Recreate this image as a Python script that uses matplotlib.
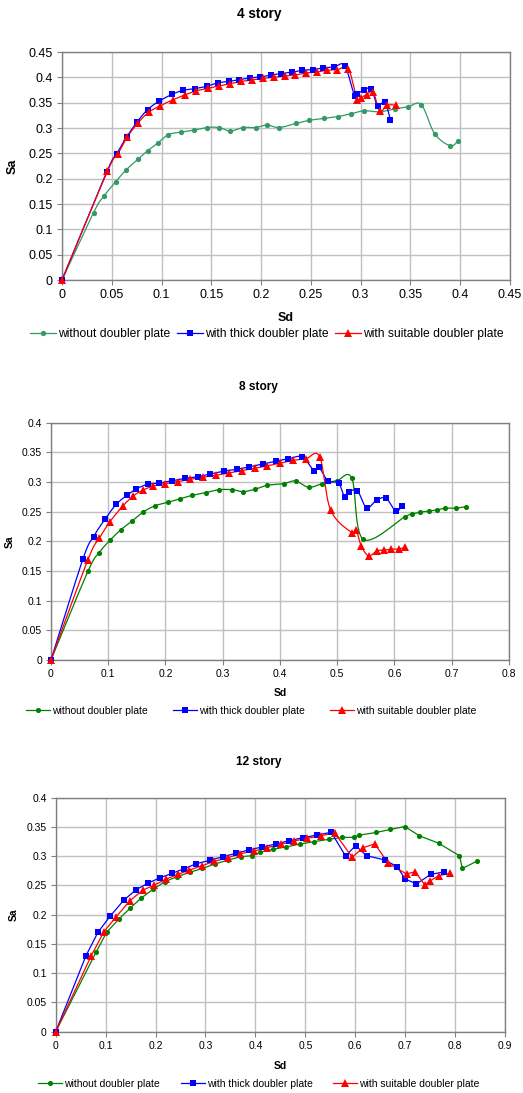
import matplotlib
matplotlib.use('Agg')
import matplotlib.pyplot as plt
import numpy as np

# ---- 4 story ----
s4_none_sd = [0, 0.0317, 0.0423, 0.054, 0.0643, 0.0763, 0.086, 0.0967, 0.107, 0.12, 0.1327, 0.146, 0.158,
              0.169, 0.182, 0.1947, 0.2057, 0.218, 0.235, 0.248, 0.263, 0.277, 0.29, 0.3037, 0.319, 0.335,
              0.3477, 0.361, 0.3743, 0.39, 0.398]
s4_none_sa = [0, 0.133, 0.166, 0.194, 0.217, 0.2385, 0.255, 0.271, 0.287, 0.292, 0.296, 0.301, 0.301,
              0.294, 0.301, 0.301, 0.306, 0.301, 0.309, 0.315, 0.319, 0.3225, 0.328, 0.334, 0.332, 0.338,
              0.342, 0.346, 0.289, 0.265, 0.275]
s4_thick_sd = [0, 0.045, 0.055, 0.065, 0.0753, 0.086, 0.0977, 0.1107, 0.122, 0.1337, 0.1453, 0.1563, 0.1677,
               0.178, 0.189, 0.1993, 0.21, 0.2203, 0.2307, 0.2413, 0.2517, 0.2623, 0.2733, 0.284, 0.294,
               0.2966, 0.3033, 0.3106, 0.317, 0.3243, 0.33]
s4_thick_sa = [0, 0.2135, 0.249, 0.2825, 0.3115, 0.3364, 0.353, 0.3666, 0.3745, 0.3778, 0.3824, 0.389, 0.392,
               0.3955, 0.3988, 0.4008, 0.4047, 0.4074, 0.41, 0.414, 0.4152, 0.4185, 0.4205, 0.4231, 0.363,
               0.368, 0.3745, 0.378, 0.3436, 0.3515, 0.3154]
s4_suit_sd = [0, 0.0457, 0.056, 0.0657, 0.0763, 0.087, 0.0987, 0.1113, 0.1233, 0.1347, 0.1467, 0.1577, 0.169,
              0.1803, 0.191, 0.2023, 0.213, 0.2237, 0.2343, 0.245, 0.2557, 0.2667, 0.2767, 0.2876, 0.2966,
              0.300, 0.306, 0.3126, 0.3193, 0.3266, 0.336]
s4_suit_sa = [0, 0.2148, 0.2483, 0.2825, 0.31, 0.331, 0.344, 0.3555, 0.3653, 0.3732, 0.3784, 0.383, 0.3876,
              0.392, 0.3949, 0.398, 0.4, 0.4028, 0.4047, 0.4087, 0.4106, 0.414, 0.4152, 0.4173, 0.355,
              0.3594, 0.366, 0.371, 0.333, 0.345, 0.345]

# ---- 8 story ----
s8_none_sd = [0, 0.0645, 0.0843, 0.103, 0.1215, 0.1413, 0.161, 0.182, 0.204, 0.2256, 0.247, 0.2703, 0.2936,
              0.3169, 0.3355, 0.357, 0.378, 0.4064, 0.4273, 0.45, 0.4738, 0.4994, 0.5256, 0.5453, 0.6187,
              0.631, 0.645, 0.66, 0.674, 0.688, 0.7077, 0.725]
s8_none_sa = [0, 0.1494, 0.181, 0.2017, 0.219, 0.234, 0.2494, 0.260, 0.2657, 0.272, 0.2775, 0.282, 0.287,
              0.287, 0.2837, 0.288, 0.2944, 0.2972, 0.3017, 0.291, 0.2972, 0.3022, 0.306, 0.2034, 0.2416,
              0.246, 0.249, 0.251, 0.2528, 0.2556, 0.256, 0.2584]
s8_thick_sd = [0, 0.0558, 0.0744, 0.0942, 0.114, 0.1326, 0.1488, 0.1686, 0.189, 0.2122, 0.2337, 0.257, 0.2785,
               0.3017, 0.325, 0.3465, 0.3698, 0.3924, 0.4145, 0.439, 0.46, 0.4674, 0.4837, 0.5023, 0.5128,
               0.5198, 0.535, 0.5512, 0.5692, 0.5855, 0.6023, 0.6128]
s8_thick_sa = [0, 0.1702, 0.2079, 0.237, 0.2624, 0.2775, 0.2882, 0.296, 0.2983, 0.3022, 0.306, 0.309, 0.3135,
               0.3185, 0.3213, 0.3258, 0.3303, 0.3348, 0.3393, 0.342, 0.3185, 0.3258, 0.302, 0.2978, 0.2753,
               0.2826, 0.2854, 0.2567, 0.2697, 0.2725, 0.2506, 0.2596]
s8_suit_sd = [0, 0.0645, 0.0843, 0.103, 0.125, 0.1436, 0.16, 0.179, 0.1994, 0.221, 0.243, 0.2663, 0.2878,
              0.311, 0.3331, 0.3558, 0.3767, 0.4, 0.4227, 0.4448, 0.4692, 0.4884, 0.5256, 0.533, 0.542,
              0.5547, 0.5692, 0.5814, 0.5942, 0.6076, 0.6187]
s8_suit_sa = [0, 0.169, 0.205, 0.233, 0.259, 0.2764, 0.286, 0.2933, 0.2972, 0.3006, 0.3045, 0.3079, 0.3112,
              0.3152, 0.3191, 0.323, 0.327, 0.3315, 0.3365, 0.3388, 0.3427, 0.2528, 0.2146, 0.2191, 0.1921,
              0.1755, 0.1837, 0.1854, 0.1866, 0.1871, 0.19]

# ---- 12 story ----
s12_none_sd = [0, 0.0807, 0.102, 0.1267, 0.1487, 0.1707, 0.1947, 0.2187, 0.2433, 0.2687, 0.294, 0.3187,
               0.3453, 0.3713, 0.3927, 0.4093, 0.4353, 0.4607, 0.4900, 0.5180, 0.5475, 0.5740, 0.5975,
               0.6085, 0.6420, 0.6705, 0.6995, 0.7285, 0.767, 0.8088, 0.8145, 0.844]
s12_none_sa = [0, 0.1356, 0.1698, 0.1926, 0.2108, 0.228, 0.2433, 0.2564, 0.265, 0.2724, 0.2792, 0.2866,
               0.2934, 0.2991, 0.3009, 0.3066, 0.3117, 0.3157, 0.3208, 0.3248, 0.3289, 0.332, 0.3322,
               0.336, 0.3405, 0.3457, 0.3507, 0.3348, 0.3222, 0.3006, 0.279, 0.2915]
s12_thick_sd = [0, 0.0607, 0.0847, 0.1093, 0.1367, 0.1613, 0.1853, 0.2093, 0.2333, 0.2573, 0.282, 0.3087,
                0.3347, 0.3613, 0.388, 0.414, 0.4407, 0.4673, 0.4953, 0.5233, 0.552, 0.5806, 0.6006,
                0.6226, 0.6592, 0.684, 0.70, 0.7227, 0.7513, 0.7774]
s12_thick_sa = [0, 0.13, 0.17, 0.1977, 0.2251, 0.2427, 0.2541, 0.2632, 0.2707, 0.2786, 0.2872, 0.2929,
                0.2991, 0.3048, 0.3111, 0.3157, 0.3208, 0.3265, 0.3316, 0.3362, 0.3408, 0.3003, 0.318,
                0.3009, 0.2935, 0.282, 0.261, 0.2525, 0.269, 0.273]
s12_suit_sd = [0, 0.0713, 0.0967, 0.1213, 0.1487, 0.1747, 0.1967, 0.22, 0.2447, 0.268, 0.2933, 0.318,
               0.3453, 0.37, 0.3973, 0.4233, 0.4507, 0.4767, 0.504, 0.532, 0.559, 0.5938, 0.6158, 0.6393,
               0.666, 0.7027, 0.72, 0.7394, 0.7494, 0.7674, 0.7908]
s12_suit_sa = [0, 0.13, 0.171, 0.1966, 0.2239, 0.2422, 0.2501, 0.2604, 0.2689, 0.2763, 0.2838, 0.2912,
               0.2974, 0.3043, 0.3088, 0.3145, 0.3202, 0.3259, 0.3305, 0.335, 0.3397, 0.2981, 0.3146, 0.3209,
               0.2878, 0.2696, 0.2735, 0.2508, 0.2576, 0.2667, 0.2708]

labels = ['without doubler plate', 'with thick doubler plate', 'with suitable doubler plate']

plt.rcParams['font.family'] = ['Liberation Sans', 'DejaVu Sans']


def smooth(x, y, n=16):
    # excel style smoothed line (bezier through the points)
    p = np.column_stack([x, y]).astype(float)
    p = np.vstack([p[0], p, p[-1]])
    out = [p[1:2]]
    t = np.linspace(0, 1, n)[1:, None]
    for i in range(1, len(p) - 2):
        p0, p1, p2, p3 = p[i - 1], p[i], p[i + 1], p[i + 2]
        c1 = p1 + (p2 - p0) / 6
        c2 = p2 - (p3 - p1) / 6
        out.append((1 - t) ** 3 * p1 + 3 * (1 - t) ** 2 * t * c1 + 3 * (1 - t) * t ** 2 * c2 + t ** 3 * p2)
    out = np.vstack(out)
    return out[:, 0], out[:, 1]


def panel(rect, title, series, colors, xmax, ymax, step_x, step_y, fs, tfs, lfs, smoothed,
          title_y, sa_x, sd_y, leg_x, leg_y, msizes, hlen, colspace):
    ax = fig.add_axes(rect)
    handles = []
    for (sd, sa), c, m, ms in zip(series, colors, ['o', 's', '^'], msizes):
        if smoothed:
            lx, ly = smooth(sd, sa)
        else:
            lx, ly = sd, sa
        ax.plot(lx, ly, color=c, lw=0.9, zorder=3, clip_on=False)
        ax.plot(sd, sa, m, color=c, ms=ms, mew=0, zorder=4, clip_on=False)
        h, = ax.plot([], [], color=c, lw=0.9, marker=m, ms=ms, mew=0)
        handles.append(h)
    ax.set_xlim(0, xmax)
    ax.set_ylim(0, ymax)
    ax.set_xticks(np.arange(0, xmax + 1e-9, step_x))
    ax.set_yticks(np.arange(0, ymax + 1e-9, step_y))
    ax.set_xticklabels(['%g' % v for v in ax.get_xticks()])
    ax.set_yticklabels(['%g' % v for v in ax.get_yticks()])
    ax.tick_params(labelsize=fs, length=3.5, color='#808080', width=0.8, pad=3)
    ax.grid(True, color='#c0c0c0', lw=1.0)
    ax.set_axisbelow(True)
    for s in ax.spines.values():
        s.set_color('#808080')
        s.set_linewidth(1.0)
    fig.text(0.495, 1 - title_y / 1093, title, ha='center', va='center', fontsize=tfs, fontweight='bold')
    fig.text(sa_x / 523, rect[1] + rect[3] / 2, 'Sa', rotation=90, ha='center', va='center',
             fontsize=fs, fontweight='bold')
    fig.text(rect[0] + rect[2] / 2, 1 - sd_y / 1093, 'Sd', ha='center', va='center', fontsize=fs,
             fontweight='bold')
    fig.legend(handles, labels, loc='center left', bbox_to_anchor=(leg_x / 523, 1 - leg_y / 1093),
               ncol=3, frameon=False, fontsize=lfs, handlelength=hlen, handletextpad=0.2,
               columnspacing=colspace, borderpad=0, borderaxespad=0)
    return ax


fig = plt.figure(figsize=(5.23, 10.93), dpi=100)

panel([0.1185, 0.7438, 0.8565, 0.2086], '4 story',
      [(s4_none_sd, s4_none_sa), (s4_thick_sd, s4_thick_sa), (s4_suit_sd, s4_suit_sa)],
      ['#339966', '#0000ff', '#ff0000'], 0.45, 0.45, 0.05, 0.05, 9, 9.8, 8.7, True,
      14, 13, 318, 30, 334, [3.8, 4.4, 5.2], 2.15, 0.5)

panel([0.0975, 0.3962, 0.8757, 0.2171], '8 story',
      [(s8_none_sd, s8_none_sa), (s8_thick_sd, s8_thick_sa), (s8_suit_sd, s8_suit_sa)],
      ['#008000', '#0000ff', '#ff0000'], 0.8, 0.4, 0.1, 0.05, 7.5, 8.6, 7.5, True,
      387, 10, 693, 26, 711, [3.7, 4.2, 5.2], 2.3, 2.4)

panel([0.1065, 0.0561, 0.8591, 0.2141], '12 story',
      [(s12_none_sd, s12_none_sa), (s12_thick_sd, s12_thick_sa), (s12_suit_sd, s12_suit_sa)],
      ['#008000', '#0000ff', '#ff0000'], 0.9, 0.4, 0.1, 0.05, 7.5, 8.6, 7.5, False,
      762, 14, 1066, 38, 1084, [3.7, 4.2, 5.2], 2.3, 2.0)

fig.savefig('out.png', dpi=100)
